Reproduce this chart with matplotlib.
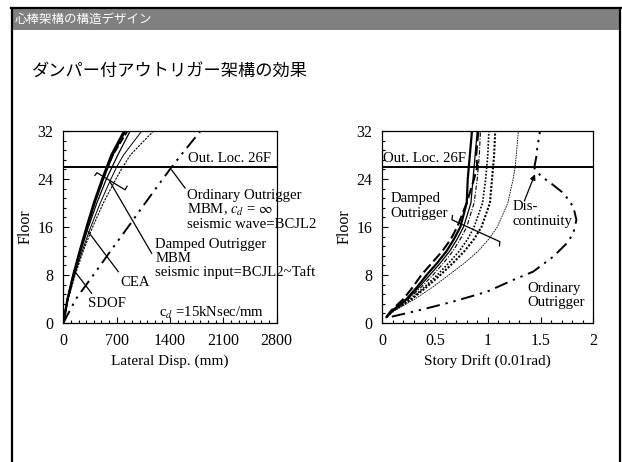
import matplotlib
matplotlib.use("Agg")
import matplotlib.pyplot as plt
from matplotlib.lines import Line2D
from matplotlib.patches import Rectangle
from matplotlib.ticker import MultipleLocator, AutoMinorLocator

plt.rcParams['font.family'] = ['Liberation Serif', 'DejaVu Serif']
plt.rcParams['mathtext.fontset'] = 'stix'

# ---------------- data ----------------
header_text = "心棒架構の構造デザイン"
title_text = "ダンパー付アウトリガー架構の効果"

# Left: lateral displacement (mm) by floor
floors_l = [0, 4, 8, 12, 16, 20, 24, 26, 28, 32]
disp_damped_1 = [0, 55, 130, 215, 305, 400, 510, 570, 630, 798]
disp_damped_2 = [0, 57, 135, 222, 315, 412, 525, 585, 648, 815]
disp_damped_3 = [0, 56, 132, 220, 312, 410, 522, 583, 650, 842]
disp_damped_4 = [0, 58, 138, 230, 330, 440, 565, 640, 715, 877]
disp_damped_5 = [0, 62, 148, 248, 360, 485, 625, 700, 790, 1030]
disp_damped_6 = [0, 65, 155, 262, 385, 525, 690, 780, 880, 1183]
disp_ordinary = [0, 165, 395, 620, 850, 1075, 1305, 1422, 1545, 1800]

# Right: story drift (0.01 rad) by floor
floors_r = [1, 2, 4, 6, 8, 10, 12, 14, 16, 20, 24, 26, 28, 32]
drift_damped_A = [0.04, 0.09, 0.23, 0.33, 0.42, 0.52, 0.61, 0.68, 0.74, 0.80, 0.81, 0.82, 0.83, 0.85]
drift_damped_B = [0.04, 0.08, 0.20, 0.29, 0.37, 0.47, 0.57, 0.65, 0.71, 0.80, 0.87, 0.90, 0.89, 0.91]
drift_damped_C = [0.04, 0.09, 0.24, 0.35, 0.45, 0.55, 0.64, 0.71, 0.77, 0.84, 0.86, 0.87, 0.88, 0.90]
drift_damped_D = [0.04, 0.09, 0.25, 0.37, 0.48, 0.58, 0.67, 0.74, 0.80, 0.87, 0.90, 0.91, 0.92, 0.93]
drift_damped_E = [0.04, 0.10, 0.27, 0.40, 0.52, 0.63, 0.73, 0.81, 0.87, 0.95, 0.98, 0.99, 1.00, 1.01]
drift_damped_F = [0.04, 0.10, 0.28, 0.42, 0.55, 0.67, 0.78, 0.87, 0.94, 1.02, 1.04, 1.05, 1.06, 1.07]
drift_damped_G = [0.04, 0.11, 0.31, 0.48, 0.63, 0.78, 0.91, 1.01, 1.09, 1.19, 1.24, 1.26, 1.27, 1.29]

floors_ord_r = [1.06, 2.17, 3.56, 5.2, 7.17, 8.56, 11.06, 13.3, 14.9, 17.2, 19.4, 21.6, 23.0,
                24.4, 25.5, 25.9, 27.7, 29.4, 32]
drift_ordinary = [0.09, 0.36, 0.67, 0.99, 1.24, 1.43, 1.62, 1.75, 1.81, 1.84, 1.81, 1.72, 1.62,
                  1.51, 1.45, 1.44, 1.46, 1.47, 1.495]

out_loc_floor = 26

x_ticks_l = [0, 700, 1400, 2100, 2800]
x_ticks_r = [0, 0.5, 1, 1.5, 2]
x_ticklabels_r = ['0', '0.5', '1', '1.5', '2']
y_ticks = [0, 8, 16, 24, 32]

# ---------------- figure ----------------
W, H = 622, 462
fig = plt.figure(figsize=(W / 100, H / 100), dpi=100)
fig.patch.set_facecolor('white')

def fx(px):
    return px / W

def fy(py):
    return 1 - py / H

# slide frame and header
fig.add_artist(Rectangle((fx(13), fy(29.5)), fx(619) - fx(13), fy(9) - fy(29.5),
                         transform=fig.transFigure, facecolor='#808080', edgecolor='none'))
fig.add_artist(Line2D([fx(12), fx(12)], [fy(462), fy(8)], transform=fig.transFigure,
                      color='black', lw=1.6))
fig.add_artist(Line2D([fx(11), fx(620.5)], [fy(8), fy(8)], transform=fig.transFigure,
                      color='black', lw=1.6))
fig.add_artist(Line2D([fx(620), fx(620)], [fy(462), fy(8)], transform=fig.transFigure,
                      color='black', lw=1.6))
fig.text(fx(15), fy(19.5), header_text, color='white', fontsize=9,
         family=['Noto Sans CJK JP'], va='center', ha='left')
fig.text(fx(32), fy(72), title_text, color='black', fontsize=12.4,
         family=['Noto Sans CJK JP'], va='center', ha='left')

ax1 = fig.add_axes([fx(63.3), fy(323), fx(276.7) - fx(63.3), fy(131) - fy(323)])
ax2 = fig.add_axes([fx(382.3), fy(323), fx(593.3) - fx(382.3), fy(131) - fy(323)])

for ax in (ax1, ax2):
    ax.set_ylim(0, 32)
    ax.set_yticks(y_ticks)
    ax.yaxis.set_minor_locator(AutoMinorLocator(5))
    ax.tick_params(which='both', direction='in', top=False, right=False,
                   labelsize=11.5)
    ax.tick_params(axis='x', pad=7)
    ax.tick_params(axis='y', pad=7)
    ax.tick_params(which='major', length=4.5, width=0.8)
    ax.tick_params(which='minor', length=2.5, width=0.8)
    for s in ax.spines.values():
        s.set_linewidth(0.9)
    ax.set_ylabel('Floor', fontsize=11.5, labelpad=3)
    ax.axhline(out_loc_floor, color='black', lw=1.4)

# ---- left ----
ax1.set_xlim(0, 2800)
ax1.set_xticks(x_ticks_l)
ax1.xaxis.set_minor_locator(MultipleLocator(100))
ax1.set_xlabel('Lateral Disp. (mm)', fontsize=11, labelpad=4)

ax1.plot(disp_damped_1, floors_l, color='black', lw=1.6)
ax1.plot(disp_damped_2, floors_l, color='black', lw=1.3)
ax1.plot(disp_damped_3, floors_l, color='black', lw=1.3, ls=(0, (4, 1.5)))
ax1.plot(disp_damped_4, floors_l, color='black', lw=0.9)
ax1.plot(disp_damped_5, floors_l, color='black', lw=0.7)
ax1.plot(disp_damped_6, floors_l, color='black', lw=0.8, ls=(0, (2, 1)))
ax1.plot(disp_ordinary, floors_l, color='black', lw=1.4, ls=(0, (7, 3, 1.2, 3, 1.2, 3)))

fs = 10.6
ax1.text(1636, 27.4, 'Out. Loc. 26F', fontsize=fs, va='center')
ax1.text(1623, 21.3, 'Ordinary Outrigger', fontsize=fs, va='center')
ax1.text(1623, 18.8, r'MBM, $c_d$ = $\infty$', fontsize=fs, va='center')
ax1.text(1623, 16.4, 'seismic wave=BCJL2', fontsize=fs, va='center')
ax1.text(1205, 13.1, 'Damped Outrigger', fontsize=fs, va='center')
ax1.text(1205, 10.8, 'MBM', fontsize=fs, va='center')
ax1.text(1205, 8.4, 'seismic input=BCJL2~Taft', fontsize=fs, va='center')
ax1.text(745, 6.8, 'CEA', fontsize=fs, va='center')
ax1.text(325, 3.2, 'SDOF', fontsize=fs, va='center')
ax1.text(1257, 1.7, r'c$_d$ =15kNsec/mm', fontsize=fs, va='center')

lk = dict(color='black', lw=0.9)
ax1.plot([1422, 1597], [25.5, 22.5], **lk)
ax1.plot([614, 1160], [23.5, 11.6], **lk)
ax1.plot([328, 722], [15.2, 8.55], **lk)
ax1.plot([153, 372], [8.55, 4.95], **lk)
# bracket
ax1.plot([415, 442, 810, 837], [24.6, 25.05, 22.2, 22.8], **lk)

# ---- right ----
ax2.set_xlim(0, 2)
ax2.set_xticks(x_ticks_r)
ax2.set_xticklabels(x_ticklabels_r)
ax2.xaxis.set_minor_locator(MultipleLocator(0.1))
ax2.set_xlabel('Story Drift (0.01rad)', fontsize=11, labelpad=4)

ax2.plot(drift_damped_A, floors_r, color='black', lw=1.6)
ax2.plot(drift_damped_B, floors_r, color='black', lw=1.5, ls=(0, (5, 2)))
ax2.plot(drift_damped_C, floors_r, color='black', lw=0.9)
ax2.plot(drift_damped_D, floors_r, color='black', lw=0.8, ls=(0, (4, 1.5, 1, 1.5)))
ax2.plot(drift_damped_E, floors_r, color='black', lw=1.2, ls=(0, (1, 1)))
ax2.plot(drift_damped_F, floors_r, color='black', lw=1.5, ls=(0, (1, 0.8)))
ax2.plot(drift_damped_G, floors_r, color='black', lw=0.6, ls=(0, (2, 1)))
ax2.plot(drift_ordinary, floors_ord_r, color='black', lw=1.4, ls=(0, (7, 3, 1.2, 3, 1.2, 3)))

ax2.text(0.01, 27.4, 'Out. Loc. 26F', fontsize=fs, va='center')
ax2.text(0.08, 20.8, 'Damped', fontsize=fs, va='center')
ax2.text(0.08, 18.3, 'Outrigger', fontsize=fs, va='center')
ax2.text(1.235, 19.4, 'Dis-', fontsize=fs, va='center')
ax2.text(1.235, 16.9, 'continuity', fontsize=fs, va='center')
ax2.text(1.375, 5.8, 'Ordinary', fontsize=fs, va='center')
ax2.text(1.375, 3.4, 'Outrigger', fontsize=fs, va='center')
ax2.annotate('', xy=(1.447, 24.8), xytext=(1.35, 20.5),
             arrowprops=dict(arrowstyle='-|>', color='black', lw=0.9,
                             mutation_scale=8, shrinkA=0, shrinkB=0))
ax2.plot([0.665, 0.66, 1.115, 1.11], [17.9, 17.2, 13.55, 12.85], **lk)

fig.savefig('out.png', dpi=100)
